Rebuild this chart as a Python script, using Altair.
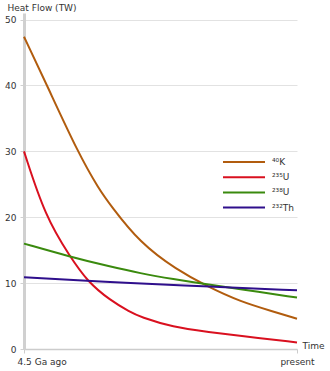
import altair as alt
import pandas as pd

# Series (isotopes) and their labels
series_keys = ["40K", "235U", "238U", "232Th"]
series_labels = ["⁴⁰K", "²³⁵U", "²³⁸U", "²³²Th"]
series_colors = ["#b15c0e", "#d9101f", "#3a8a0e", "#2f0f8c"]

# Time in Ga elapsed since 4.5 Ga ago (0 = 4.5 Ga ago, 4.5 = present)
k40_t = [0.0, 0.38, 0.89, 1.24, 1.42, 1.91, 2.52, 3.02, 3.56, 4.10, 4.5]
k40_v = [47.4, 40.0, 29.8, 24.2, 21.9, 16.1, 12.0, 9.5, 7.2, 5.7, 4.6]

u235_t = [0.0, 0.35, 0.76, 1.05, 1.42, 1.75, 1.91, 2.46, 3.02, 3.56, 4.5]
u235_v = [30.0, 20.1, 14.0, 10.2, 7.4, 5.6, 4.9, 3.3, 2.6, 2.0, 1.0]

u238_t = [0.0, 0.76, 1.42, 1.91, 2.46, 3.02, 3.56, 4.5]
u238_v = [16.0, 14.0, 12.5, 11.5, 10.6, 9.8, 9.1, 7.8]

th232_t = [0.0, 1.75, 3.02, 4.5]
th232_v = [10.9, 10.0, 9.5, 8.9]

x_ticks = [0, 4.5]
x_tick_labels = ["4.5 Ga ago", "present"]
y_ticks = [0, 10, 20, 30, 40, 50]

rows = []
for lab, ts, vs in zip(series_labels,
                       [k40_t, u235_t, u238_t, th232_t],
                       [k40_v, u235_v, u238_v, th232_v]):
    for t, v in zip(ts, vs):
        rows.append({"series": lab, "t": t, "v": v})
df = pd.DataFrame(rows)

FONT = "DejaVu Sans"

chart = alt.Chart(df).mark_line(strokeWidth=2, interpolate="basis").encode(
    x=alt.X(
        "t:Q",
        scale=alt.Scale(domain=[0, 4.5], nice=False, zero=False),
        axis=alt.Axis(
            values=x_ticks,
            labelExpr=f"datum.value == 0 ? '{x_tick_labels[0]}' : '{x_tick_labels[1]}'",
            grid=False,
            domainColor="#cccccc",
            domainWidth=1.5,
            tickColor="#cccccc",
            tickSize=4,
            labelPadding=4,
            labelFont=FONT,
            labelFontSize=9,
            labelColor="#333333",
            labelAlign=alt.condition("datum.value == 0", alt.value("left"), alt.value("center")),
            labelOffset=alt.condition("datum.value == 0", alt.value(-7), alt.value(0)),
            labelFlush=False,
            title="Time",
            titleFont=FONT,
            titleFontSize=9,
            titleFontWeight="normal",
            titleColor="#333333",
            titleAngle=0,
            titleAlign="left",
            titleBaseline="middle",
            titleX=278,
            titleY=-4,
        ),
    ),
    y=alt.Y(
        "v:Q",
        scale=alt.Scale(domain=[0, 51], nice=False),
        axis=alt.Axis(
            values=y_ticks,
            grid=True,
            gridColor="#e2e2e2",
            gridWidth=1,
            domainColor="#d0d0d0",
            domainWidth=3,
            tickColor="#d0d0d0",
            tickSize=4,
            labelPadding=4,
            labelFont=FONT,
            labelFontSize=9,
            labelColor="#333333",
            title="Heat Flow (TW)",
            titleFont=FONT,
            titleFontSize=9,
            titleFontWeight="normal",
            titleColor="#333333",
            titleAngle=0,
            titleAlign="left",
            titleBaseline="middle",
            titleX=-17,
            titleY=-6,
        ),
    ),
    color=alt.Color(
        "series:N",
        scale=alt.Scale(domain=series_labels, range=series_colors),
        legend=alt.Legend(
            orient="none",
            legendX=212,
            legendY=141,
            title=None,
            symbolType="M-3,0H3",
            symbolSize=196,
            symbolStrokeWidth=2,
            rowPadding=2.2,
            labelOffset=20,
            labelFont=FONT,
            labelFontSize=9,
            labelColor="#333333",
        ),
    ),
).properties(
    width=273,
    height=336,
    autosize="none",
    padding={"left": 24, "top": 13, "right": 33, "bottom": 22},
).configure_view(strokeWidth=0)

chart.save("out.html", embed_options={"renderer": "svg", "actions": False})
